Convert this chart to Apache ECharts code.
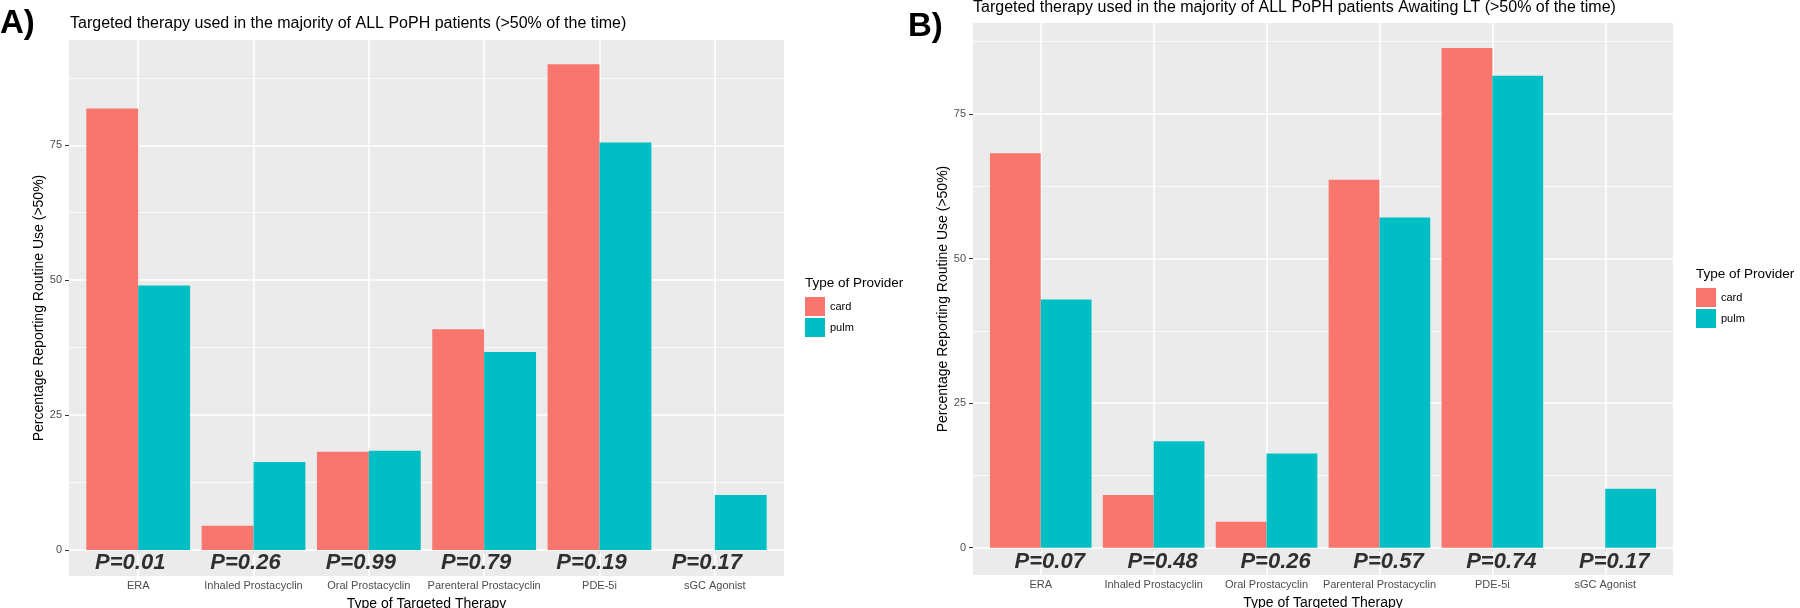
<!DOCTYPE html>
<html>
<head>
<meta charset="utf-8">
<script src="https://cdn.jsdelivr.net/npm/echarts@6/dist/echarts.min.js"></script>
<style>
  html, body { margin: 0; padding: 0; background: #ffffff; }
  #chart { width: 1800px; height: 608px; }
</style>
</head>
<body>
<div id="chart"></div>
<script>
// ---------------- data ----------------
const categories = ['ERA', 'Inhaled Prostacyclin', 'Oral Prostacyclin', 'Parenteral Prostacyclin', 'PDE-5i', 'sGC Agonist'];
const providers = ['card', 'pulm'];

const cardA = [81.8, 4.5, 18.2, 40.9, 90.0, 0];
const pulmA = [49.0, 16.3, 18.4, 36.7, 75.5, 10.2];
const pValuesA = ['P=0.01', 'P=0.26', 'P=0.99', 'P=0.79', 'P=0.19', 'P=0.17'];

const cardB = [68.2, 9.1, 4.5, 63.6, 86.4, 0];
const pulmB = [42.9, 18.4, 16.3, 57.1, 81.6, 10.2];
const pValuesB = ['P=0.07', 'P=0.48', 'P=0.26', 'P=0.57', 'P=0.74', 'P=0.17'];

const yTicks = [0, 25, 50, 75];
const yMinorTicks = [12.5, 37.5, 62.5, 87.5];
const yRangeA = [-4.8, 94.5];
const yRangeB = [-4.72, 90.72];
const pValueY = -2.4;

const titleA = 'Targeted therapy used in the majority of ALL PoPH patients (>50% of the time)';
const titleB = 'Targeted therapy used in the majority of ALL PoPH patients Awaiting LT (>50% of the time)';
const xTitle = 'Type of Targeted Therapy';
const yTitle = 'Percentage Reporting Routine Use (>50%)';
const legendTitle = 'Type of Provider';

// ---------------- styling ----------------
const FONT = "'Liberation Sans', Arial, Helvetica, sans-serif";
const COLORS = { card: '#F8766D', pulm: '#00BFC4' };
const PANEL_BG = '#EBEBEB';

const chart = echarts.init(document.getElementById('chart'), null, { renderer: 'canvas' });

const grids = [], xAxes = [], yAxes = [], series = [];

function addPanel(p) {
  const unit = p.width / 6.2;
  const outer = grids.length;
  grids.push({ left: p.left, top: p.top, width: p.width, height: p.height,
               show: true, backgroundColor: PANEL_BG, borderWidth: 0, z: 0,
               containLabel: false, outerBoundsMode: 'none' });
  grids.push({ left: p.left + 0.1 * unit, top: p.top, width: 6 * unit, height: p.height,
               show: false, containLabel: false, outerBoundsMode: 'none' });
  const inner = outer + 1;

  // outer axes (panel, gridlines, y labels, annotations)
  xAxes.push({ gridIndex: outer, type: 'value', min: 0.4, max: 6.6, show: false });
  yAxes.push({
    gridIndex: outer, type: 'value', min: p.yRange[0], max: p.yRange[1],
    axisLine: { show: false },
    splitLine: { show: false },
    axisTick: { show: true, length: 4, customValues: yTicks, lineStyle: { color: '#333333', width: 1 } },
    axisLabel: { show: true, customValues: yTicks, color: '#4D4D4D', fontSize: 11, fontFamily: FONT, margin: 7 },
    name: yTitle, nameLocation: 'middle', nameRotate: 90, nameGap: 22,
    nameTextStyle: { color: '#000000', fontSize: 14, fontFamily: FONT }
  });

  // inner axes (bars)
  xAxes.push({
    gridIndex: inner, type: 'category', data: categories,
    axisLine: { show: false },
    axisTick: { show: true, alignWithLabel: true, length: 4, lineStyle: { color: '#333333', width: 1 } },
    axisLabel: { color: '#4D4D4D', fontSize: 11, fontFamily: FONT, margin: 4, interval: 0 },
    splitLine: { show: false },
    name: xTitle, nameLocation: 'middle', nameGap: 21, nameMoveOverlap: false,
    nameTextStyle: { color: '#000000', fontSize: 14, fontFamily: FONT }
  });
  yAxes.push({ gridIndex: inner, type: 'value', min: p.yRange[0], max: p.yRange[1], show: false });

  const lineData = []
    .concat(categories.map((c, i) => ({ xAxis: i + 1, lineStyle: { width: 1.6 } })))
    .concat(yTicks.map(v => ({ yAxis: v, lineStyle: { width: 1.6 } })))
    .concat(yMinorTicks.map(v => ({ yAxis: v, lineStyle: { width: 0.8 } })));

  series.push({
    type: 'scatter', name: 'p' + outer, xAxisIndex: outer, yAxisIndex: outer, z: 1,
    symbolSize: 0, silent: true, animation: false,
    data: p.pValues.map((t, i) => ({ value: [i + 1, pValueY], name: t })),
    label: {
      show: true, position: 'inside', formatter: '{b}', offset: [p.pOffset, 0],
      color: '#000000', fontSize: 22, fontWeight: 'bold', fontStyle: 'italic', fontFamily: FONT
    },
    markLine: {
      z: 1, zlevel: 0,
      silent: true, animation: false, symbol: ['none', 'none'],
      label: { show: false },
      lineStyle: { color: '#FFFFFF', type: 'solid', width: 1.6 },
      emphasis: { disabled: true },
      data: lineData
    }
  });

  [['card', p.card], ['pulm', p.pulm]].forEach(([name, vals]) => {
    series.push({
      type: 'bar', name: name, xAxisIndex: inner, yAxisIndex: inner, z: 6,
      barWidth: '45%', barGap: '0%', animation: false,
      itemStyle: { color: COLORS[name] },
      data: vals
    });
  });
}

addPanel({ left: 69, top: 40, width: 715, height: 536, yRange: yRangeA,
           card: cardA, pulm: pulmA, pValues: pValuesA, pOffset: -8 });
addPanel({ left: 973, top: 23, width: 700, height: 552, yRange: yRangeB,
           card: cardB, pulm: pulmB, pValues: pValuesB, pOffset: 9 });

const legendCommon = {
  data: providers, orient: 'vertical', icon: 'rect', itemWidth: 20, itemHeight: 19, itemGap: 2,
  padding: 0, selectedMode: false,
  textStyle: { color: '#000000', fontSize: 11, fontFamily: FONT }
};

const option = {
  backgroundColor: '#FFFFFF',
  animation: false,
  title: [
    { text: 'A)', left: 0, top: 7, padding: 0,
      textStyle: { fontSize: 33, fontWeight: 'bold', fontFamily: FONT, color: '#000' } },
    { text: titleA, left: 70, top: 16, padding: 0,
      textStyle: { fontSize: 16, fontWeight: 'normal', fontFamily: FONT, color: '#000' } },
    { text: 'B)', left: 908, top: 10, padding: 0,
      textStyle: { fontSize: 33, fontWeight: 'bold', fontFamily: FONT, color: '#000' } },
    { text: titleB, left: 973, top: 0, padding: 0,
      textStyle: { fontSize: 16, fontWeight: 'normal', fontFamily: FONT, color: '#000' } },
    { text: legendTitle, left: 805, top: 276, padding: 0,
      textStyle: { fontSize: 13.5, fontWeight: 'normal', fontFamily: FONT, color: '#000' } },
    { text: legendTitle, left: 1696, top: 267, padding: 0,
      textStyle: { fontSize: 13.5, fontWeight: 'normal', fontFamily: FONT, color: '#000' } }
  ],
  legend: [
    Object.assign({}, legendCommon, { left: 805, top: 297 }),
    Object.assign({}, legendCommon, { left: 1696, top: 288 })
  ],
  grid: grids,
  xAxis: xAxes,
  yAxis: yAxes,
  series: series
};

chart.setOption(option);
</script>
</body>
</html>
